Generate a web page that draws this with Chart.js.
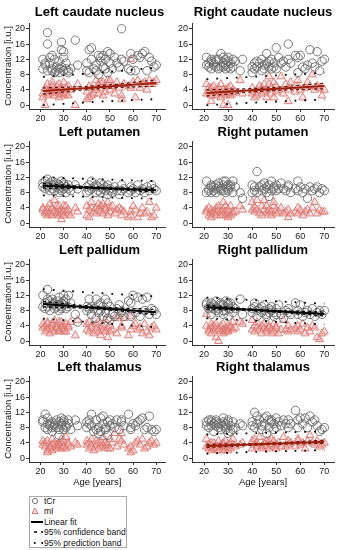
<!DOCTYPE html>
<html>
<head>
<meta charset="utf-8">
<script src="https://cdn.jsdelivr.net/npm/chart.js@4.4.1/dist/chart.umd.min.js"></script>
<style>
  body { margin: 0; background: #fff; font-family: "Liberation Sans", Arial, sans-serif; }
  #wrap { position: relative; width: 342px; height: 550px; overflow: hidden; }
  #wrap canvas { position: absolute; }
  .ttl { position: absolute; font-weight: bold; font-size: 13px; line-height: 16px; text-align: center; white-space: nowrap; color: #000; }
  #legend { position: absolute; left: 29px; top: 496px; width: 96px; height: 50px; border: 1px solid #aaa; font-size: 8.5px; color: #111; }
  #legend div { position: absolute; left: 0; height: 10px; line-height: 10px; white-space: nowrap; }
  #legend svg { position: absolute; left: 0; top: 0; }
  #legend span { position: absolute; left: 14px; top: 0; }
</style>
</head>
<body>
<div id="wrap">
  <div id="legend">
    <div style="top:-1px"><svg width="14" height="10"><circle cx="5" cy="5" r="2.6" fill="none" stroke="#666" stroke-width="0.9"/></svg><span>tCr</span></div>
    <div style="top:9px"><svg width="14" height="10"><polygon points="5,2 8,7.5 2,7.5" fill="rgba(255,170,185,0.4)" stroke="#d46a60" stroke-width="0.9"/></svg><span>mI</span></div>
    <div style="top:19.5px"><svg width="14" height="10"><line x1="1" y1="5" x2="13" y2="5" stroke="#000" stroke-width="2"/></svg><span>Linear fit</span></div>
    <div style="top:30px"><svg width="14" height="10"><line x1="4" y1="5" x2="13" y2="5" stroke="#000" stroke-width="1.6" stroke-dasharray="3,4"/></svg><span>95% confidence band</span></div>
    <div style="top:40.5px"><svg width="14" height="10"><line x1="4" y1="5" x2="13" y2="5" stroke="#000" stroke-width="1.8" stroke-dasharray="1.5,6"/></svg><span>95% prediction band</span></div>
  </div>
</div>
<script>
// subjects' ages (shared by all regions)
const ages = [21,21,22,22,23,23,23,24,24,25,25,25,26,26,27,27,28,28,28,29,29,29,30,30,30,31,31,32,32,33,35,36,
  40,40,41,41,42,42,43,44,44,45,45,46,46,47,47,48,48,49,49,50,50,51,52,53,54,55,55,56,
  58,59,59,60,61,62,63,64,65,66,67,68,69,70];
const xTicks = [20, 30, 40, 50, 60, 70];
const yTicks = [0, 4, 8, 12, 16, 20];
const fitAge = [21, 45, 70];

const tcrLeftCaudate = [9.5,12,10.5,11,19,16,9,12.5,11,9.5,13,9,8.5,12,9,10,11.5,9.5,8.5,16.5,14.5,10,14,9,12.5,9.5,11,8.5,9,9.5,17,10.5,
  9,11,14.5,8.5,15,12,9.5,9,10.5,13,8,11.5,12.5,10,13,9.5,12,8.5,14,11,13.5,9.5,12.5,11,10,20,12,11.5,
  9.5,13.5,9,12,9,13,12.5,13.5,14,9,12.5,11.5,10,10.5];
const miLeftCaudate = [3,2,4.5,0,3.5,2.5,5.5,4,3,6,5,3.5,2.5,4,3.5,5,2,3,5.5,4.5,3,4,2.5,6,3.5,4.5,3,5,2.5,4,0,5.5,
  1.5,3.5,2,5,4.5,2.5,3,6.5,4,5.5,3,6,4.5,2.5,6,5,3.5,5.5,6.5,4,6.5,5,3,6,4.5,1.5,2.5,5.5,
  5,12,4.5,6,2,6.5,4.5,5.5,6,4,6.5,5.5,6,6.5];
const tcrRightCaudate = [10.5,12.5,11,10,11.5,9.5,12,10.5,11,10,12,11.5,9.5,12,10,13.5,12.5,10,11,9.5,10.5,12,10,11.5,12.5,9.5,11,10,12,11.5,9,12,
  10,8.5,11,9.5,11.5,10,11,9,12,10.5,9.5,11,13.5,10,11.5,9.5,12,10,11,9.5,15,12.5,11,11.5,10,16,12,11,
  13,8.5,12.5,13,10,9.5,10.5,14.5,11,10,14,9,11.5,12];
const miRightCaudate = [5.5,3,4.5,3.5,4.5,2.5,1,3.5,5,2.5,4,3,3.5,4.5,2,5.5,3,4,0,3.5,2.5,4,0,3,4.5,2.5,5,3,4,3.5,6.5,3,
  3,4.5,2,3.5,4,2.5,5,3,4.5,5.5,3.5,2,4,5.5,7.5,3,4.5,2,6,3.5,5,4,7.5,3,5.5,1,4,6,
  3.5,6.5,5,4,2,4.5,6,5,8,4,5,4.5,2.5,4];
const tcrLeftPutamen = [10.5,9.5,11,9,10,11.5,9.5,10.5,8.5,10,9,11,8.5,10,9.5,10.5,9,8,10,9.5,11,8.5,10,9,10.5,8,9.5,10,9,8.5,10,9,
  9.5,8,10,8.5,11,9,9.5,8,10,8.5,9.5,10.5,8,9,10,8.5,9.5,7.5,10,8.5,9,8,9.5,8.5,7.5,10,8.5,9,
  8,9.5,8.5,9,8,10,8.5,9,8,9.5,8.5,10,9,8.5];
const miLeftPutamen = [4,3.5,2.5,3,4,2,3,5,2.5,3.5,4,2,6,3,4.5,2.5,3,4.5,2,3.5,1,2.5,4.5,3,2,4.5,3,2.5,3.5,2,4,3,
  2,4.5,1.5,3.5,4,5.5,3,4,2.5,5,3.5,4.5,3,5,2.5,4,3.5,5.5,2,4,3,4.5,2.5,3.5,4,2,3.5,3,
  1.5,3,2,4.5,3.5,1.5,2.5,4,2.5,3,5.5,1.5,2,4];
const tcrRightPutamen = [8,11,8.5,9,9.5,8,10,9.5,8.5,10,9,8,9.5,10.5,8.5,9,10,11,8.5,9.5,11,8,10,9,8.5,9.5,10,8,11,9.5,8,6.5,
  10,8,9.5,8.5,13.5,8,9.5,10,8.5,9,10.5,8,9.5,7,10,8.5,11,9,9.5,10,8.5,9,10.5,9,8.5,10,9.5,8,
  9,11,8.5,9.5,8,9,6.5,9.5,8.5,9,9.5,8,9,8.5];
const miRightPutamen = [3.5,3,2,4,2.5,3.5,1.5,3,2.5,4,3,2,3.5,4.5,2,3,5.5,2.5,3.5,2,4.5,3,1.5,2.5,3.5,2,4.5,3,2.5,3,4.5,3.5,
  5.5,3.5,4,3,6,3.5,2.5,4.5,2,3.5,6,3,4.5,2.5,3.5,2,3,4.5,5.5,2.5,3.5,3,4,2.5,3,1.5,3.5,2.5,
  3,2.5,4,3.5,2,3,3.5,2.5,4,5.5,2.5,3.5,3,3];
const tcrLeftPallidum = [12,9,10,8.5,13.5,11,9,10.5,8,10,9.5,11,8.5,10,9,10.5,9.5,8,11.5,10,9,8.5,12,9.5,10.5,11,8.5,12,9,10,7,5,
  8,9,11,8.5,7,9,8.5,6,11,7.5,9.5,10,8,6.5,9,11,7.5,6,10,5.5,9,7,6.5,8.5,9.5,8,7.5,6.5,
  10.5,6.5,10,12,7.5,11.5,6.5,11,8,11.5,7,8.5,8,7];
const miLeftPallidum = [3.5,4.5,2.5,4,3,5,4.5,3.5,2,4.5,3,4,5.5,2.5,3.5,4.5,3,5,2.5,4,3.5,5,2.5,4,3,4.5,2.5,3.5,4,5,1.5,5.5,
  3,4.5,2.5,5,3.5,4,2,3,4.5,2.5,5,3.5,1.5,4,3,2.5,5.5,3.5,1,4,2.5,3,6,2,6.5,3.5,4,6,
  1.5,3,6.5,4,4.5,3,3.5,2,4.5,2.5,1.5,3.5,4,3];
const tcrRightPallidum = [10,9.5,9,8.5,9,10,7,8.5,9.5,8,10.5,9,7.5,8.5,9.5,10,8,9.5,7,10.5,9,8,10,6.5,9.5,8.5,10,9,7.5,8.5,11,7,
  8.5,7.5,9,10,8,6.5,8.5,9,7.5,8,9.5,7,6.5,8.5,7.5,9,8,6.5,7.5,8.5,7,9.5,7,6,8,7.5,8.5,7,
  10,7,8,9.5,6.5,7.5,8,7,8.5,6.5,7.5,8,7,8];
const miRightPallidum = [7,4,3,2.5,4.5,3.5,2,3,4,1,3.5,4.5,0,3,2.5,4,3,2,4.5,3,3.5,2.5,4,3,2.5,4,3.5,5,3,3.5,5,4.5,
  3,5.5,4,2.5,3.5,5,3,4,2,3.5,4.5,3,2.5,4,3.5,2,3,4.5,2.5,3.5,4,2,3,5.5,3,2.5,4,3,
  3.5,4,2.5,3,4.5,2,3.5,2.5,4,3.5,1,0.5,2,2.5];
const tcrLeftThalamus = [10,9.5,11.5,8,9,10.5,7.5,8.5,9,8,9.5,7,8.5,9,10,8,7.5,9.5,6,8.5,10.5,9,7.5,10,9.5,8.5,8,10,9,7.5,10,8.5,
  9.5,8,10,9,11.5,8.5,7,7.5,10,8,6.5,10.5,7,11,9,8,7.5,6,9.5,8.5,10,9,8,10,7.5,10,9.5,8.5,
  11.5,8,7.5,9,8.5,9.5,10,10.5,7.5,8,11,7.5,7,7.5];
const miLeftThalamus = [4.5,3.5,4,3,2,4.5,1.5,3,2.5,5,3.5,2,3,4,3.5,2.5,4,3,3.5,5,2.5,4,3,4.5,3,5.5,2.5,4,3.5,3,4,3.5,
  4.5,3.5,2.5,4,5,3,2,3.5,4.5,2.5,4,3,4,5.5,3.5,3,4,2.5,3.5,5,2.5,4,6.5,3,5,4.5,6.5,3.5,
  2.5,3,1.5,2,4,4.5,3.5,5,2.5,3,4,4.5,3.5,4];
const tcrRightThalamus = [8.5,9.5,8,10,9.5,8.5,10,9,7,8.5,9.5,10,8,9,7.5,9,8.5,10.5,9.5,7.5,8,9,10,6.5,9.5,7,8.5,9.5,7.5,8,9,8.5,
  8.5,9.5,12,8,11,9,10,7.5,8.5,10.5,9,11,6.5,10,8,9.5,10,7.5,9,10.5,8,9.5,8.5,10,9,8,10,9,
  12.5,10,8,10.5,9,10.5,8,11,9.5,10,8.5,7,7.5,8];
const miRightThalamus = [5,3,2.5,3.5,4,2,3,2.5,4,3.5,3,2.5,4.5,2,3.5,3,2,4,3.5,2.5,3,4.5,2,3.5,3,4,2.5,3.5,5,3,3.5,4,
  2.5,4.5,3.5,5,3,4,5.5,3,2.5,4,3.5,4.5,3,2.5,4.5,3.5,5,3,4.5,3.5,2.5,4,3,5.5,3,4.5,3.5,4,
  3,4.5,5,3.5,4,2.5,4.5,6,4,3.5,4.5,3,3.5,4];

// linear fits read at ages 21, 45, 70: [fit], [[conf low],[conf high]], [[pred low],[pred high]]
const fitLeftCaudate = [3.7, 4.7, 5.8];
const confLeftCaudate = [[2.9, 4.3, 5.0], [4.5, 5.1, 6.6]];
const predLeftCaudate = [[0.0, 0.9, 1.6], [7.4, 8.5, 9.8]];
const fitRightCaudate = [3.2, 4.1, 5.0];
const confRightCaudate = [[2.4, 3.7, 4.3], [4.0, 4.5, 5.7]];
const predRightCaudate = [[0.0, 0.8, 1.5], [6.8, 7.6, 8.5]];
const fitLeftPutamen = [9.8, 9.2, 8.6];
const confLeftPutamen = [[9.2, 9.0, 8.1], [10.4, 9.4, 9.1]];
const predLeftPutamen = [[7.3, 6.8, 6.4], [12.0, 11.5, 11.0]];
const fitLeftPallidum = [9.7, 8.7, 7.6];
const confLeftPallidum = [[9.0, 8.4, 6.9], [10.4, 9.0, 8.3]];
const predLeftPallidum = [[5.9, 4.8, 3.6], [13.6, 12.6, 11.7]];
const fitRightPallidum = [8.9, 8.0, 7.1];
const confRightPallidum = [[8.4, 7.8, 6.6], [9.4, 8.2, 7.6]];
const predRightPallidum = [[6.0, 5.2, 4.4], [11.4, 10.6, 9.8]];
const fitRightThalamus = [3.2, 3.7, 4.3];
const confRightThalamus = [[2.8, 3.5, 3.9], [3.6, 3.9, 4.7]];
const predRightThalamus = [[1.2, 1.7, 2.1], [6.2, 6.6, 7.0]];

const panels = [
  { title: "Left caudate nucleus", tcr: tcrLeftCaudate, mi: miLeftCaudate, on: "mi", fit: fitLeftCaudate, conf: confLeftCaudate, pred: predLeftCaudate },
  { title: "Right caudate nucleus", tcr: tcrRightCaudate, mi: miRightCaudate, on: "mi", fit: fitRightCaudate, conf: confRightCaudate, pred: predRightCaudate },
  { title: "Left putamen", tcr: tcrLeftPutamen, mi: miLeftPutamen, on: "tcr", fit: fitLeftPutamen, conf: confLeftPutamen, pred: predLeftPutamen },
  { title: "Right putamen", tcr: tcrRightPutamen, mi: miRightPutamen, on: null },
  { title: "Left pallidum", tcr: tcrLeftPallidum, mi: miLeftPallidum, on: "tcr", fit: fitLeftPallidum, conf: confLeftPallidum, pred: predLeftPallidum },
  { title: "Right pallidum", tcr: tcrRightPallidum, mi: miRightPallidum, on: "tcr", fit: fitRightPallidum, conf: confRightPallidum, pred: predRightPallidum },
  { title: "Left thalamus", tcr: tcrLeftThalamus, mi: miLeftThalamus, on: null },
  { title: "Right thalamus", tcr: tcrRightThalamus, mi: miRightThalamus, on: "mi", fit: fitRightThalamus, conf: confRightThalamus, pred: predRightThalamus },
];

const rowTop = [0, 118, 236, 353];
const titleY = [4, 124, 242, 359];
const font = "'Liberation Sans', Arial, sans-serif";
const wrap = document.getElementById("wrap");

const pts = (ys) => ys.map((y, i) => ({ x: ages[i], y }));
const linePts = (ys) => ys.map((y, i) => ({ x: fitAge[i], y }));

panels.forEach((p, k) => {
  const col = k % 2, row = Math.floor(k / 2);
  const last = row === 3;
  const xh = last ? 26 : 20;
  const cv = document.createElement("canvas");
  cv.width = 171;
  cv.height = 23 + 86 + xh;
  cv.style.left = col * 171 + "px";
  cv.style.top = rowTop[row] + "px";
  wrap.appendChild(cv);

  const t = document.createElement("div");
  t.className = "ttl";
  t.textContent = p.title;
  const areaL = col ? 192 : 29, areaR = col ? 334 : 170;
  t.style.left = areaL - 30 + "px";
  t.style.width = areaR - areaL + 60 + "px";
  t.style.top = titleY[row] + "px";
  wrap.appendChild(t);

  const datasets = [];
  if (p.on) {
    const red = p.on === "mi";
    const fitColor = red ? "#9c1e0c" : "#000";
    const dashColor = red ? "#6b1208" : "#000";
    datasets.push({ data: linePts(p.fit), showLine: true, pointRadius: 0, borderColor: fitColor, borderWidth: 2, order: 0 });
    p.conf.forEach((b) => datasets.push({ data: linePts(b), showLine: true, pointRadius: 0, borderColor: dashColor, borderWidth: 1.3, borderDash: [3, 3], tension: 0.4, order: 1 }));
    p.pred.forEach((b) => datasets.push({ data: linePts(b), showLine: true, pointRadius: 0, borderColor: "#000", borderWidth: 1.8, borderDash: [1.8, 8], tension: 0.4, order: 2 }));
  }
  datasets.push({ data: pts(p.tcr), pointStyle: "circle", pointRadius: 4.2, borderWidth: 0.9, borderColor: "#6a6a6a", backgroundColor: "rgba(0,0,0,0)", order: 4 });
  datasets.push({ data: pts(p.mi), pointStyle: "triangle", pointRadius: 4.6, borderWidth: 0.9, borderColor: "#d8766a", backgroundColor: "rgba(255,165,185,0.28)", order: 5 });

  new Chart(cv, {
    type: "scatter",
    data: { datasets },
    options: {
      responsive: false,
      animation: false,
      events: [],
      layout: { padding: { top: 23, right: col ? 8 : 1, left: 0, bottom: 0 } },
      plugins: { legend: { display: false }, tooltip: { enabled: false } },
      scales: {
        x: {
          type: "linear", min: 15, max: 74,
          afterBuildTicks: (s) => { s.ticks = xTicks.map((v) => ({ value: v })); },
          afterFit: (s) => { s.height = xh; },
          grid: { drawOnChartArea: false, tickLength: 3, color: "#333" },
          border: { color: "#333", width: 1 },
          ticks: { font: { size: 9, family: font }, color: "#222", padding: 1, maxRotation: 0 },
          title: { display: last, text: "Age [years]", font: { size: 9.5, family: font }, color: "#111", padding: { top: 0, bottom: 0 } },
        },
        y: {
          type: "linear", min: -1, max: 21.5,
          afterBuildTicks: (s) => { s.ticks = yTicks.map((v) => ({ value: v })); },
          afterFit: (s) => { s.width = col ? 21 : 29; },
          grid: { drawOnChartArea: false, tickLength: 3, color: "#333" },
          border: { color: "#333", width: 1 },
          ticks: { font: { size: 9, family: font }, color: "#222", padding: 1 },
          title: { display: col === 0, text: "Concentration [i.u.]", font: { size: 9.5, family: font }, color: "#111", padding: { top: 3, bottom: 0 } },
        },
      },
    },
  });
});
</script>
</body>
</html>
